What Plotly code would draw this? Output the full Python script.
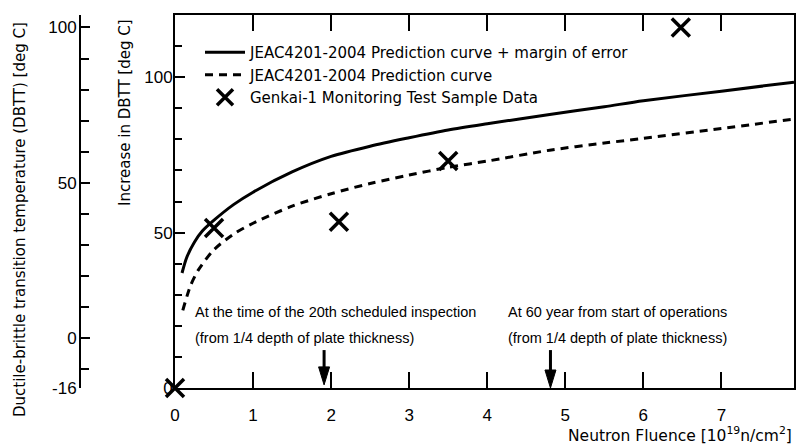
import plotly.graph_objects as go

# Prediction curve + margin of error (solid)
margin_x = [0.09, 0.15, 0.25, 0.35, 0.5, 0.75, 1.0, 1.5, 2.0, 2.5, 3.0, 3.5, 4.0, 4.8, 5.5, 6.0, 7.0, 7.93]
margin_y = [37, 42, 47, 50.5, 54, 59, 63, 69.5, 74.5, 77.8, 80.5, 83, 85, 88, 90.5, 92.4, 95.5, 98.4]

# Prediction curve (dashed)
pred_x = [0.1, 0.2, 0.3, 0.5, 0.75, 1.0, 1.5, 2.0, 2.5, 3.0, 3.5, 4.0, 4.8, 5.5, 6.0, 7.0, 7.93]
pred_y = [25, 33, 38, 44.5, 49.5, 53, 58.5, 62.5, 65.8, 68.5, 71, 73, 76.5, 78.8, 80.3, 83.5, 86.5]

# Genkai-1 monitoring test sample data
sample_x = [0.0, 0.5, 2.1, 3.5, 6.48]
sample_y = [0.0, 51.5, 53.5, 73, 116]

# Axis ticks
x_ticks = [0, 1, 2, 3, 4, 5, 6, 7]
inner_major = [0, 50, 100]
inner_minor = [10, 20, 30, 40, 60, 70, 80, 90, 110]
outer_major = [-16, 0, 50, 100]
outer_minor = [-10, 10, 20, 30, 40, 60, 70, 80, 90]

# Arrow markers (fluence positions, tip and top values)
arrow_x = [1.91, 4.81]
arrow_tip = [1.0, 0.0]
arrow_top = 12.2

W, H = 800, 447
ML, MR, MT, MB = 0, 6, 15, 59
PW = W - ML - MR
PH = H - MT - MB
x_left_px = 175
outer_axis_px = 80
X_RANGE = [0, 7.93]
Y_RANGE = [0, 120]

NARROW = "Liberation Sans, Arial, sans-serif"
MAIN = "DejaVu Sans, Verdana, sans-serif"

fig = go.Figure()
fig.add_trace(go.Scatter(
    x=margin_x, y=margin_y, mode="lines", line=dict(color="black", width=3, shape="spline", smoothing=0.8),
    name="JEAC4201-2004 Prediction curve + margin of error"))
fig.add_trace(go.Scatter(
    x=pred_x, y=pred_y, mode="lines", line=dict(color="black", width=3, dash="8px,6px", shape="spline", smoothing=0.8),
    name="JEAC4201-2004 Prediction curve"))
fig.add_trace(go.Scatter(
    x=sample_x, y=sample_y, mode="markers", cliponaxis=False,
    marker=dict(symbol="x-thin", size=18, line=dict(color="black", width=3.5)),
    name="Genkai-1 Monitoring Test Sample Data"))
# invisible trace to carry the outer axis
fig.add_trace(go.Scatter(x=[0], y=[0], yaxis="y2", mode="markers", marker=dict(opacity=0),
                         showlegend=False, hoverinfo="skip"))

# arrows: shaft + filled head (head size in pixels converted to data units)
x_per_px = (X_RANGE[1] - X_RANGE[0]) / (PW - (x_left_px - ML))
y_per_px = (Y_RANGE[1] - Y_RANGE[0]) / PH
head_half_w = 5.5 * x_per_px
head_len = 18 * y_per_px
for ax, tip in zip(arrow_x, arrow_tip):
    fig.add_trace(go.Scatter(x=[ax, ax], y=[arrow_top, tip + head_len * 0.9], mode="lines",
                             line=dict(color="black", width=3), showlegend=False, hoverinfo="skip"))
    fig.add_trace(go.Scatter(x=[ax - head_half_w, ax + head_half_w, ax, ax - head_half_w],
                             y=[tip + head_len, tip + head_len, tip, tip + head_len],
                             mode="lines", fill="toself", fillcolor="black",
                             line=dict(color="black", width=1), showlegend=False, hoverinfo="skip"))

ann_font = dict(family=NARROW, size=14.5, color="black")
fig.add_annotation(x=0.23, y=24.5, xref="x", yref="y", text="At the time of the 20th scheduled inspection",
                   showarrow=False, xanchor="left", yanchor="middle", font=ann_font)
fig.add_annotation(x=0.23, y=16.1, xref="x", yref="y", text="(from 1/4 depth of plate thickness)",
                   showarrow=False, xanchor="left", yanchor="middle", font=ann_font)
fig.add_annotation(x=4.24, y=24.5, xref="x", yref="y", text="At 60 year from start of operations",
                   showarrow=False, xanchor="left", yanchor="middle", font=ann_font)
fig.add_annotation(x=4.24, y=16.1, xref="x", yref="y", text="(from 1/4 depth of plate thickness)",
                   showarrow=False, xanchor="left", yanchor="middle", font=ann_font)

# axis titles as annotations for exact placement
def px_x(p):
    return (p - ML) / PW

def px_y(p):
    return (MT + PH - p) / PH

fig.add_annotation(x=px_x(20), y=px_y(220), xref="paper", yref="paper",
                   text="Ductile-brittle transition temperature (DBTT) [deg C]", textangle=-90,
                   showarrow=False, xanchor="center", yanchor="middle",
                   font=dict(family=MAIN, size=15, color="black"))
fig.add_annotation(x=px_x(125), y=px_y(112), xref="paper", yref="paper",
                   text="Increase in DBTT [deg C]", textangle=-90,
                   showarrow=False, xanchor="center", yanchor="middle",
                   font=dict(family=MAIN, size=15, color="black"))
fig.add_annotation(x=1, y=px_y(447), xref="paper", yref="paper",
                   text="Neutron Fluence [10<sup>19</sup>n/cm<sup>2</sup>]",
                   showarrow=False, xanchor="right", yanchor="bottom",
                   font=dict(family=MAIN, size=15.5, color="black"))

tick_font = dict(family=NARROW, size=17, color="black")

fig.update_layout(
    width=W, height=H, margin=dict(l=ML, r=MR, t=MT, b=MB),
    paper_bgcolor="white", plot_bgcolor="white",
    showlegend=True,
    legend=dict(x=px_x(200), y=px_y(36), xanchor="left", yanchor="top",
                bgcolor="rgba(0,0,0,0)", font=dict(family=MAIN, size=15, color="black"),
                itemwidth=40, tracegroupgap=0),
    xaxis=dict(domain=[(x_left_px - ML) / PW, 1], range=X_RANGE,
               tickvals=x_ticks, ticktext=[str(v) for v in x_ticks],
               ticks="inside", ticklen=16, tickwidth=2, tickcolor="black",
               showline=True, linewidth=2, linecolor="black", mirror="ticks",
               showgrid=False, zeroline=False, tickfont=tick_font, automargin=False,
               ticklabelstandoff=11),
    yaxis=dict(range=Y_RANGE, tickvals=inner_major, ticktext=[str(v) for v in inner_major],
               ticks="inside", ticklen=10, tickwidth=2, tickcolor="black",
               minor=dict(tickvals=inner_minor, ticks="inside", ticklen=7, tickwidth=1.5, tickcolor="black"),
               showline=True, linewidth=2, linecolor="black", mirror=True,
               showgrid=False, zeroline=False, tickfont=tick_font, automargin=False,
               ticklabelstandoff=-3),
    yaxis2=dict(overlaying="y", anchor="free", position=px_x(outer_axis_px), side="left",
                range=[Y_RANGE[0] - 16, Y_RANGE[1] - 16], tickvals=outer_major, ticktext=[str(v) for v in outer_major],
                ticks="inside", ticklen=9, tickwidth=2, tickcolor="black",
                minor=dict(tickvals=outer_minor, ticks="inside", ticklen=8, tickwidth=1.5, tickcolor="black"),
                showline=True, linewidth=2, linecolor="black",
                showgrid=False, zeroline=False, tickfont=tick_font, automargin=False,
                ticklabelstandoff=-1),
)

fig.write_html("out.html")
